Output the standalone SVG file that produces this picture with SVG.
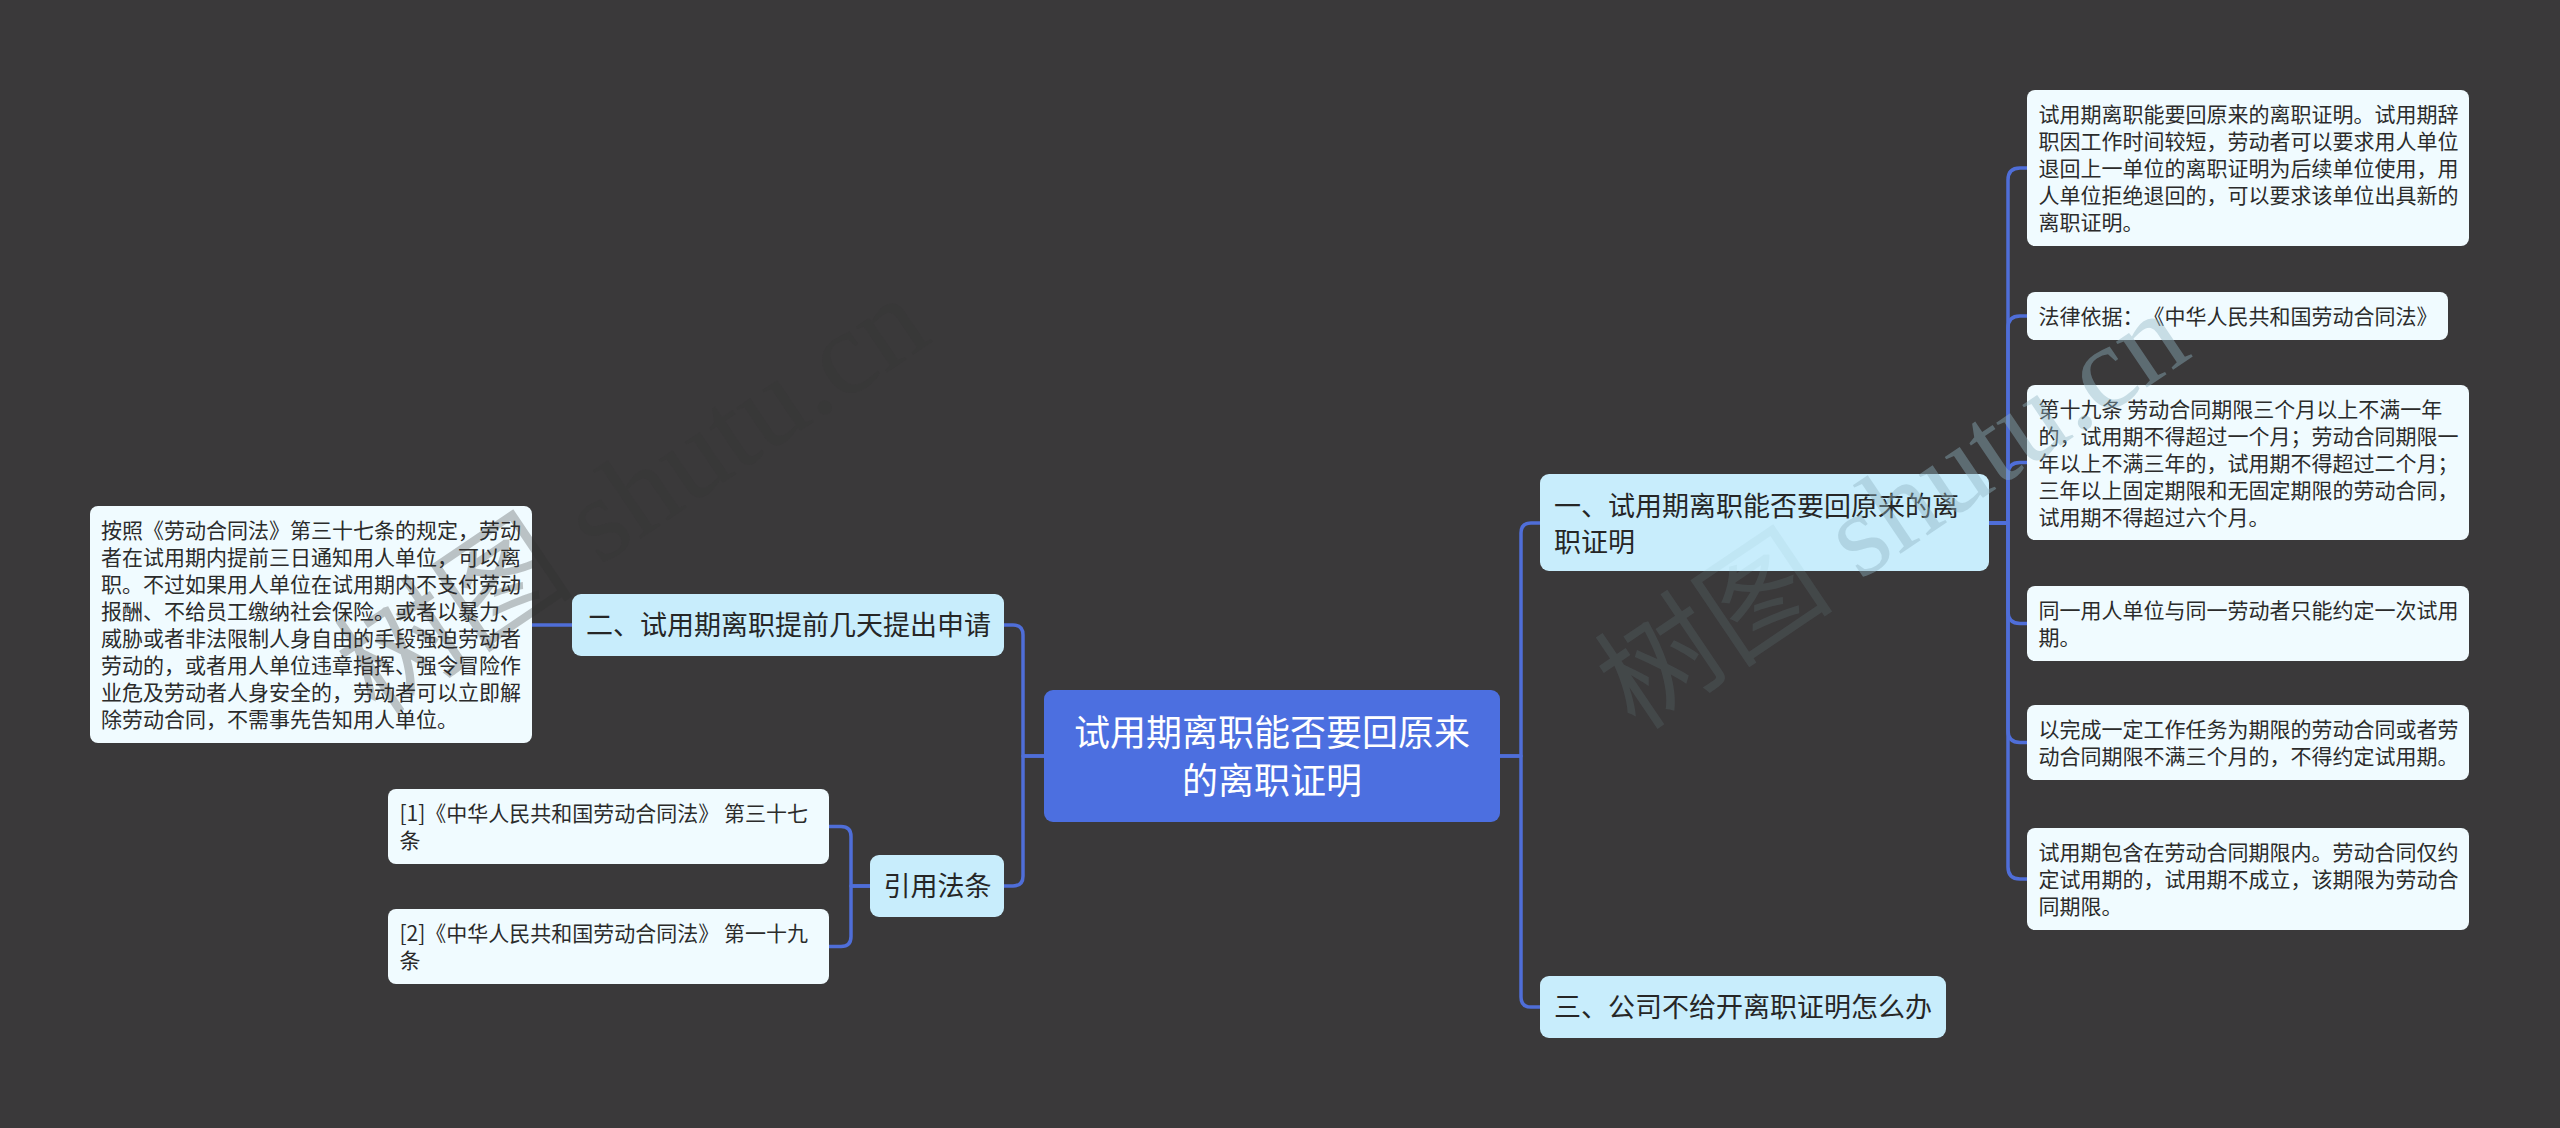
<svg xmlns="http://www.w3.org/2000/svg" width="2560" height="1128" viewBox="0 0 2560 1128">
<style>
text{font-family:"Noto Sans CJK SC","Noto Sans",sans-serif;text-spacing-trim:space-all;}
.leaf rect{fill:#f0fbff;}
.main rect{fill:#c8edfc;}
.leaf text{font-size:21px;fill:#2b2b2b;}
.main text{font-size:27px;fill:#262626;}
.root rect{fill:#4c6fe0;}
.root text{font-size:36px;fill:#ffffff;text-anchor:middle;}
.conn path{fill:none;stroke:#4f6ed8;stroke-width:3.5;stroke-linecap:round;stroke-linejoin:round;}
.wm{font-family:"Liberation Serif","Noto Sans CJK SC",serif;font-size:120px;}
</style>
<rect x="0" y="0" width="2560" height="1128" fill="#3a393a"/>

<g id="connectors" class="conn">
  <path d="M1500,756 H1521 V533 Q1521,523 1531,523 H1540"/>
  <path d="M1500,756 H1521 V997 Q1521,1007 1531,1007 H1540"/>
  <path d="M1044,756 H1023 V635 Q1023,625 1013,625 H1004"/>
  <path d="M1044,756 H1023 V876 Q1023,886 1013,886 H1004"/>
  <path d="M572,625 H532"/>
  <path d="M870,886 H851 V836.5 Q851,826.5 841,826.5 H829"/>
  <path d="M870,886 H851 V936.5 Q851,946.5 841,946.5 H829"/>
  <path d="M1989,523 H2008 V180 Q2008,168 2020,168 H2027"/>
  <path d="M1989,523 H2008 V328 Q2008,316 2020,316 H2027"/>
  <path d="M1989,523 H2008 V474.5 Q2008,462.5 2020,462.5 H2027"/>
  <path d="M1989,523 H2008 V611.5 Q2008,623.5 2020,623.5 H2027"/>
  <path d="M1989,523 H2008 V730.5 Q2008,742.5 2020,742.5 H2027"/>
  <path d="M1989,523 H2008 V867 Q2008,879 2020,879 H2027"/>
</g>

<g id="root" class="root">
  <rect x="1044" y="690" width="456" height="132" rx="9"/>
  <text><tspan x="1272" y="746">试用期离职能否要回原来</tspan><tspan x="1272" y="794">的离职证明</tspan></text>
</g>

<g id="n1" class="main">
  <rect x="1540" y="474" width="449" height="97" rx="9"/>
  <text><tspan x="1554" y="516.3">一、试用期离职能否要回原来的离</tspan><tspan x="1554" y="551.8">职证明</tspan></text>
</g>
<g id="n3" class="main">
  <rect x="1540" y="976" width="406" height="62" rx="9"/>
  <text x="1554" y="1017.3">三、公司不给开离职证明怎么办</text>
</g>
<g id="n2" class="main">
  <rect x="572" y="594" width="432" height="62" rx="9"/>
  <text x="586" y="635.3">二、试用期离职提前几天提出申请</text>
</g>
<g id="nref" class="main">
  <rect x="870" y="855" width="134" height="62" rx="9"/>
  <text x="883.5" y="896.3">引用法条</text>
</g>

<g id="leaf-left" class="leaf">
  <rect x="90" y="506" width="442" height="237" rx="8"/>
  <text>
    <tspan x="101" y="538">按照《劳动合同法》第三十七条的规定，劳动</tspan>
    <tspan x="101" y="565">者在试用期内提前三日通知用人单位，可以离</tspan>
    <tspan x="101" y="592">职。不过如果用人单位在试用期内不支付劳动</tspan>
    <tspan x="101" y="619">报酬、不给员工缴纳社会保险。或者以暴力、</tspan>
    <tspan x="101" y="646">威胁或者非法限制人身自由的手段强迫劳动者</tspan>
    <tspan x="101" y="673">劳动的，或者用人单位违章指挥、强令冒险作</tspan>
    <tspan x="101" y="700">业危及劳动者人身安全的，劳动者可以立即解</tspan>
    <tspan x="101" y="727">除劳动合同，不需事先告知用人单位。</tspan>
  </text>
</g>

<g id="ref1" class="leaf">
  <rect x="388" y="789" width="441" height="75" rx="8"/>
  <text><tspan x="399.5" y="821">[1]《中华人民共和国劳动合同法》 第三十七</tspan><tspan x="399.5" y="848">条</tspan></text>
</g>
<g id="ref2" class="leaf">
  <rect x="388" y="909" width="441" height="75" rx="8"/>
  <text><tspan x="399.5" y="941">[2]《中华人民共和国劳动合同法》 第一十九</tspan><tspan x="399.5" y="968">条</tspan></text>
</g>

<g id="leaf1" class="leaf">
  <rect x="2027" y="90" width="442" height="156" rx="8"/>
  <text>
    <tspan x="2038.5" y="122">试用期离职能要回原来的离职证明。试用期辞</tspan>
    <tspan x="2038.5" y="149">职因工作时间较短，劳动者可以要求用人单位</tspan>
    <tspan x="2038.5" y="176">退回上一单位的离职证明为后续单位使用，用</tspan>
    <tspan x="2038.5" y="203">人单位拒绝退回的，可以要求该单位出具新的</tspan>
    <tspan x="2038.5" y="230">离职证明。</tspan>
  </text>
</g>
<g id="leaf2" class="leaf">
  <rect x="2027" y="292" width="421" height="48" rx="8"/>
  <text x="2038.5" y="324">法律依据：《中华人民共和国劳动合同法》</text>
</g>
<g id="leaf3" class="leaf">
  <rect x="2027" y="385" width="442" height="155" rx="8"/>
  <text>
    <tspan x="2038.5" y="416.5">第十九条 劳动合同期限三个月以上不满一年</tspan>
    <tspan x="2038.5" y="443.5">的，试用期不得超过一个月；劳动合同期限一</tspan>
    <tspan x="2038.5" y="470.5">年以上不满三年的，试用期不得超过二个月；</tspan>
    <tspan x="2038.5" y="497.5">三年以上固定期限和无固定期限的劳动合同，</tspan>
    <tspan x="2038.5" y="524.5">试用期不得超过六个月。</tspan>
  </text>
</g>
<g id="leaf4" class="leaf">
  <rect x="2027" y="586" width="442" height="75" rx="8"/>
  <text><tspan x="2038.5" y="618">同一用人单位与同一劳动者只能约定一次试用</tspan><tspan x="2038.5" y="645">期。</tspan></text>
</g>
<g id="leaf5" class="leaf">
  <rect x="2027" y="705" width="442" height="75" rx="8"/>
  <text><tspan x="2038.5" y="737">以完成一定工作任务为期限的劳动合同或者劳</tspan><tspan x="2038.5" y="764">动合同期限不满三个月的，不得约定试用期。</tspan></text>
</g>
<g id="leaf6" class="leaf">
  <rect x="2027" y="828" width="442" height="102" rx="8"/>
  <text>
    <tspan x="2038.5" y="860">试用期包含在劳动合同期限内。劳动合同仅约</tspan>
    <tspan x="2038.5" y="887">定试用期的，试用期不成立，该期限为劳动合</tspan>
    <tspan x="2038.5" y="914">同期限。</tspan>
  </text>
</g>

<g id="watermarks">
  <text class="wm" x="376" y="717" transform="rotate(-34 376 717)" fill="#303030"><tspan fill-opacity="0.28">树图</tspan><tspan fill-opacity="0.12"> shutu.cn</tspan></text>
  <text class="wm" x="1636" y="732" transform="rotate(-34 1636 732)" fill="#8fb3c0"><tspan fill-opacity="0.12">树图</tspan><tspan fill-opacity="0.42"> shutu.cn</tspan></text>
</g>
</svg>
